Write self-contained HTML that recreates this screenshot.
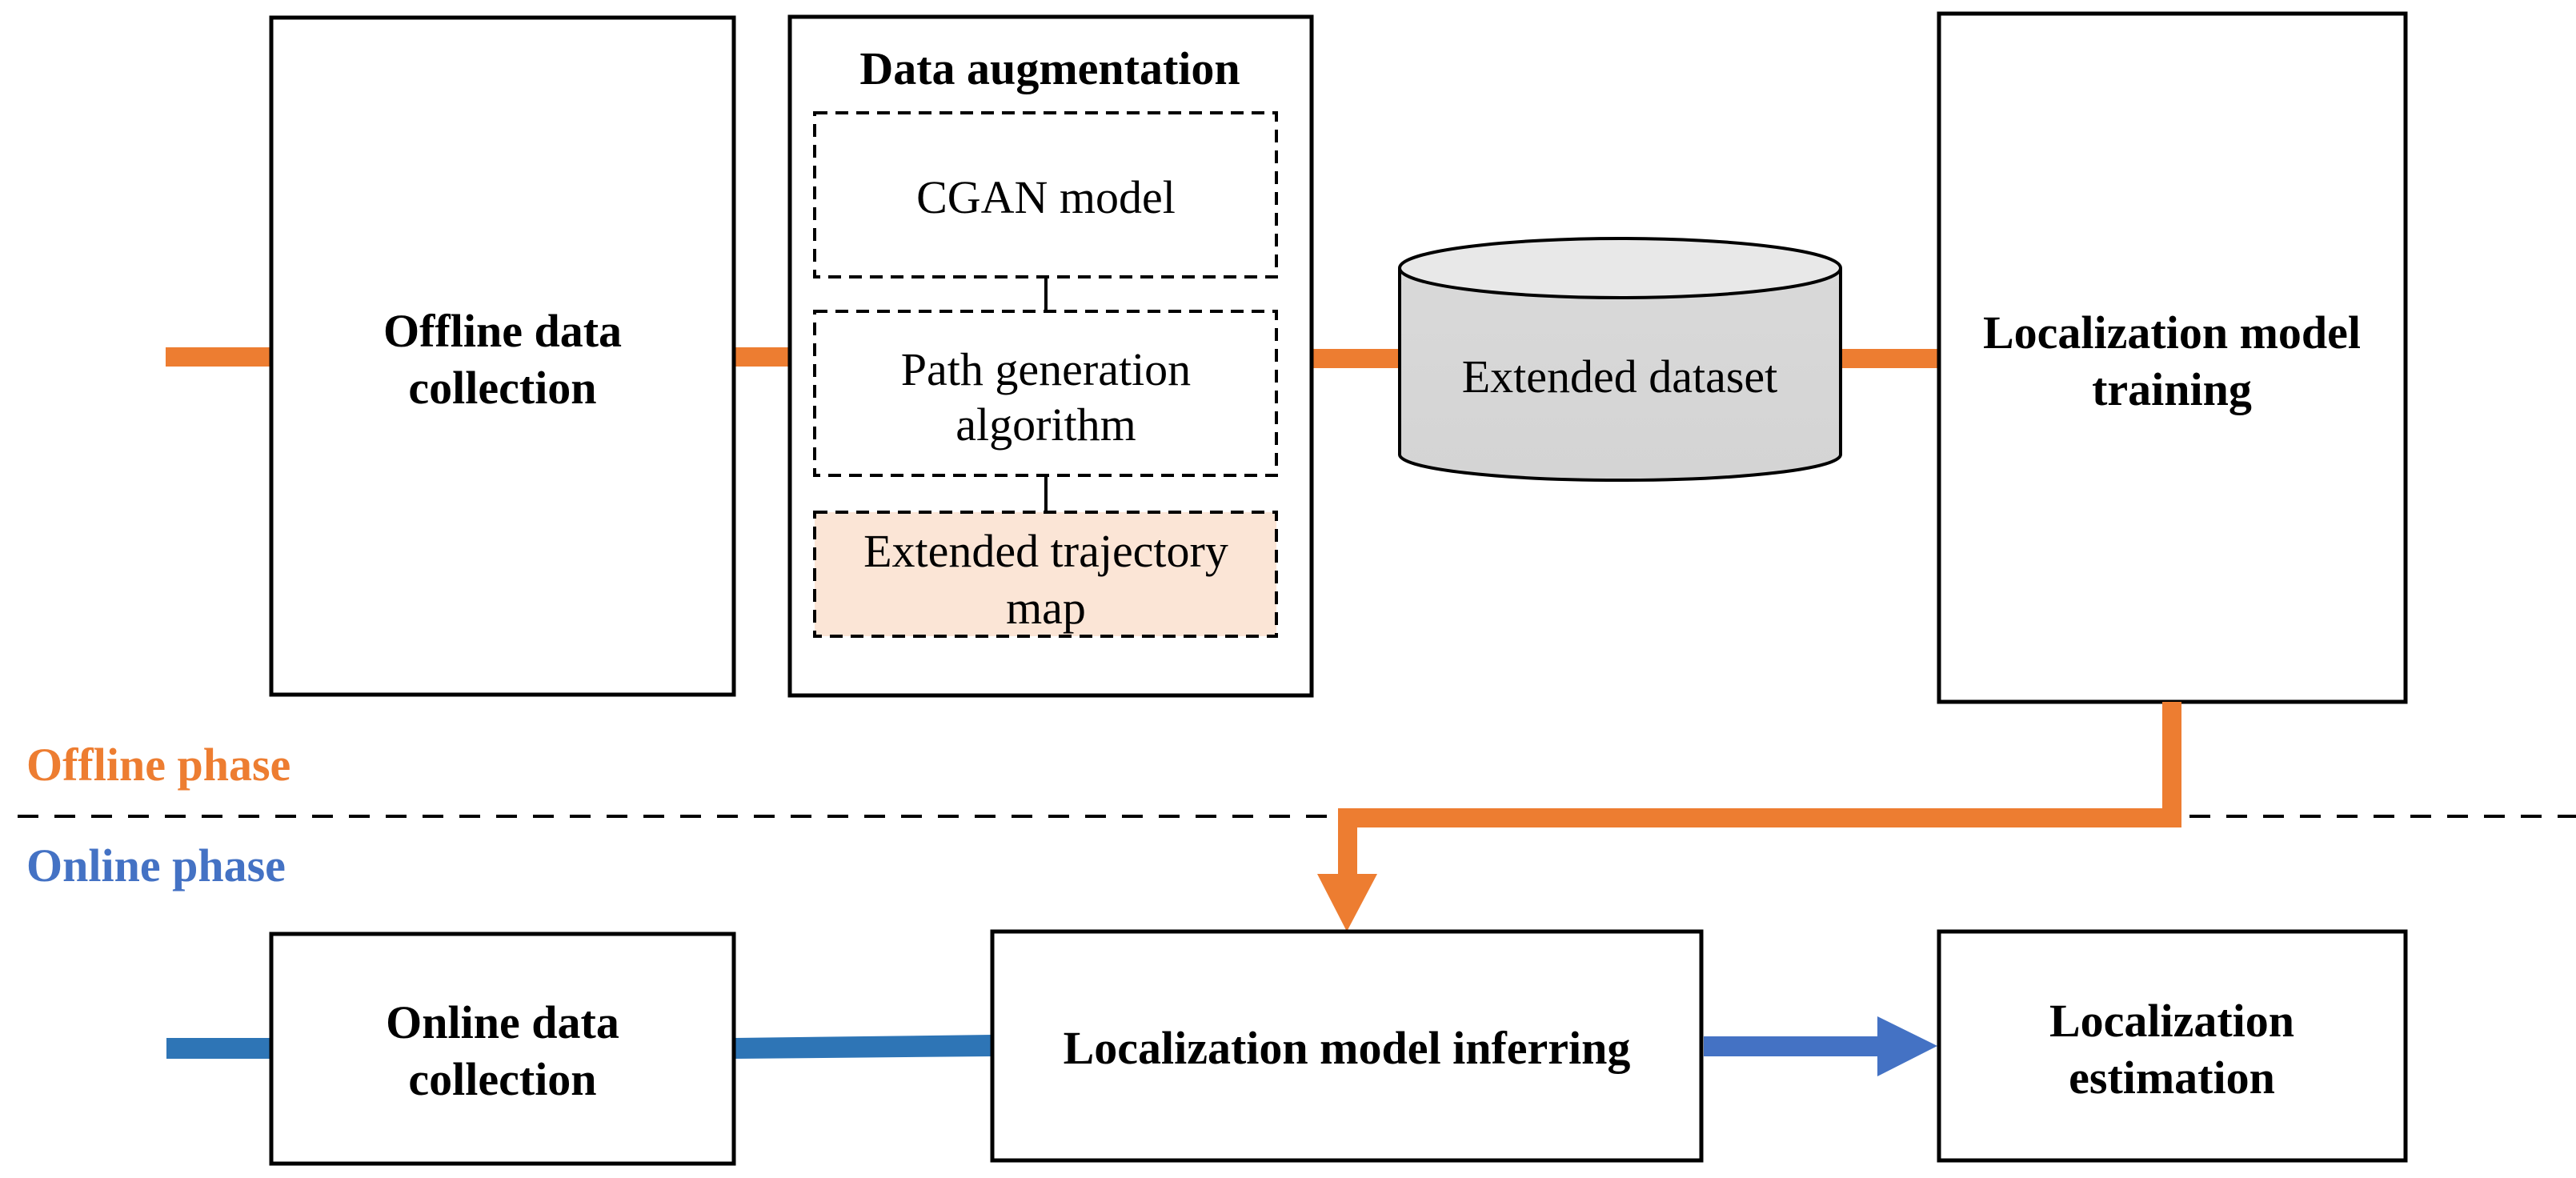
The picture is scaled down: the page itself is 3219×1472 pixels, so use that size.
<!DOCTYPE html>
<html><head><meta charset="utf-8"><style>
html,body{margin:0;padding:0;background:#fff;}
svg{display:block;}
text{font-family:"Liberation Serif",serif;}
.b{font-weight:bold;font-size:58px;fill:#000;}
.n{font-size:58px;fill:#000;}
</style></head><body>
<svg width="3219" height="1472" viewBox="0 0 3219 1472" xmlns="http://www.w3.org/2000/svg">
<defs>
<linearGradient id="g" x1="0" y1="0" x2="0" y2="1"><stop offset="0" stop-color="#d9d9d9"/><stop offset="1" stop-color="#d4d4d4"/></linearGradient>
</defs>
<rect x="207" y="434" width="132" height="24" fill="#ed7d31"/>
<rect x="918" y="434" width="68" height="24" fill="#ed7d31"/>
<rect x="1640" y="436" width="110" height="24" fill="#ed7d31"/>
<rect x="2300" y="436" width="124" height="24" fill="#ed7d31"/>
<rect x="339" y="22" width="578" height="846" fill="none" stroke="#000" stroke-width="5"/>
<text class="b" x="628" y="433" text-anchor="middle">Offline data</text>
<text class="b" x="628" y="504" text-anchor="middle">collection</text>
<rect x="987" y="21" width="652" height="848" fill="none" stroke="#000" stroke-width="5"/>
<text class="b" x="1312" y="105" text-anchor="middle">Data augmentation</text>
<rect x="1018" y="141" width="577" height="205" fill="none" stroke="#000" stroke-width="4" stroke-dasharray="16,10"/>
<text class="n" x="1307" y="266" text-anchor="middle">CGAN model</text>
<line x1="1307" y1="346" x2="1307" y2="389" stroke="#000" stroke-width="4"/>
<rect x="1018" y="389" width="577" height="205" fill="none" stroke="#000" stroke-width="4" stroke-dasharray="16,10"/>
<text class="n" x="1307" y="481" text-anchor="middle">Path generation</text>
<text class="n" x="1307" y="550" text-anchor="middle">algorithm</text>
<line x1="1307" y1="594" x2="1307" y2="640" stroke="#000" stroke-width="4"/>
<rect x="1018" y="640" width="577" height="155" fill="#fbe5d6" stroke="#000" stroke-width="4" stroke-dasharray="16,10"/>
<text class="n" x="1307" y="708" text-anchor="middle">Extended trajectory</text>
<text class="n" x="1307" y="779" text-anchor="middle">map</text>
<path d="M1749,335 L1749,568 A275,32 0 0 0 2300,568 L2300,335" fill="url(#g)" stroke="#000" stroke-width="4"/>
<ellipse cx="2024.5" cy="335" rx="275.5" ry="37" fill="#e8e8e8" stroke="#000" stroke-width="4"/>
<text class="n" x="2024" y="490" text-anchor="middle">Extended dataset</text>
<rect x="2423" y="17" width="583" height="860" fill="none" stroke="#000" stroke-width="5"/>
<text class="b" x="2714" y="435" text-anchor="middle">Localization model</text>
<text class="b" x="2714" y="506" text-anchor="middle">training</text>
<text x="33" y="975" style="font-weight:bold;font-size:58px;fill:#ed7d31">Offline phase</text>
<line x1="22" y1="1020" x2="3219" y2="1020" stroke="#000" stroke-width="4" stroke-dasharray="26,20"/>
<text x="33" y="1101" style="font-weight:bold;font-size:58px;fill:#4472c4">Online phase</text>
<path d="M2714,877 L2714,1022 L1684,1022 L1684,1095" fill="none" stroke="#ed7d31" stroke-width="24"/>
<polygon points="1646,1092 1721,1092 1683,1164" fill="#ed7d31"/>
<rect x="208" y="1297" width="131" height="26" fill="#2e75b6"/>
<polygon points="918,1297 1240,1293 1240,1320 918,1323" fill="#2e75b6"/>
<rect x="339" y="1167" width="578" height="287" fill="none" stroke="#000" stroke-width="5"/>
<text class="b" x="628" y="1297" text-anchor="middle">Online data</text>
<text class="b" x="628" y="1368" text-anchor="middle">collection</text>
<rect x="1240" y="1164" width="886" height="286" fill="none" stroke="#000" stroke-width="5"/>
<text class="b" x="1683" y="1329" text-anchor="middle">Localization model inferring</text>
<rect x="2129" y="1295" width="220" height="25" fill="#4472c4"/>
<polygon points="2346,1270 2421,1307 2346,1345" fill="#4472c4"/>
<rect x="2423" y="1164" width="583" height="286" fill="none" stroke="#000" stroke-width="5"/>
<text class="b" x="2714" y="1295" text-anchor="middle">Localization</text>
<text class="b" x="2714" y="1366" text-anchor="middle">estimation</text>
</svg>
</body></html>
